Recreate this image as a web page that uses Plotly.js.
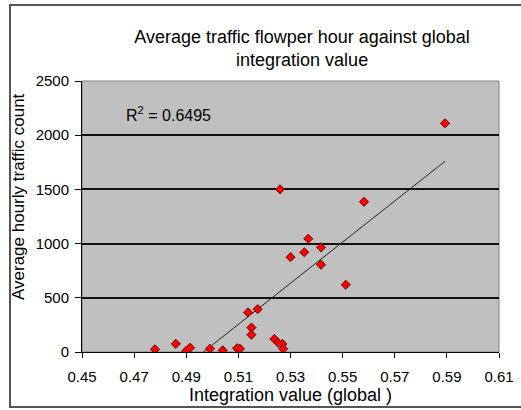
<!DOCTYPE html>
<html>
<head>
<meta charset="utf-8">
<script src="https://cdn.plot.ly/plotly-3.0.1.min.js"></script>
<style>
  html, body { margin: 0; padding: 0; background: #fff; }
  #wrap { position: relative; width: 521px; height: 410px; }
  #chart { position: absolute; left: 0; top: 0; width: 521px; height: 410px; }
  #frame { position: absolute; left: 9px; top: 4px; width: 512px; height: 404px; border: 2px solid #555; border-right: none; box-sizing: border-box; pointer-events: none; }
</style>
</head>
<body>
<div id="wrap">
  <div id="chart"></div>
  <div id="frame"></div>
</div>
<script>
// Integration value (global) for each observation point
const integration = [0.4780, 0.4860, 0.4900, 0.4915, 0.4991, 0.5040, 0.5095, 0.5106,
                     0.5150, 0.5150, 0.5137, 0.5174, 0.5260, 0.5238, 0.5253, 0.5269,
                     0.5272, 0.5300, 0.5353, 0.5368, 0.5417, 0.5417, 0.5512, 0.5582, 0.5893];
// Average hourly traffic count
const traffic = [25, 75, 10, 40, 30, 15, 35, 30,
                 160, 225, 365, 395, 1500, 120, 85, 75,
                 30, 875, 920, 1045, 965, 805, 620, 1385, 2110];
const xTicks = [0.45, 0.47, 0.49, 0.51, 0.53, 0.55, 0.57, 0.59, 0.61];
const yTicks = [0, 500, 1000, 1500, 2000, 2500];
const rSquaredLabel = "R<sup>2</sup> = 0.6495";

// least-squares linear trend line computed from data
const n = integration.length;
const mx = integration.reduce((a, b) => a + b, 0) / n;
const my = traffic.reduce((a, b) => a + b, 0) / n;
let sxy = 0, sxx = 0;
for (let i = 0; i < n; i++) { sxy += (integration[i] - mx) * (traffic[i] - my); sxx += (integration[i] - mx) ** 2; }
const slope = sxy / sxx;
const intercept = my - slope * mx;
const xMax = Math.max(...integration);
const xZero = -intercept / slope; // trend line clipped at the axis minimum (0)
const trendX = [xZero, xMax];
const trendY = trendX.map(x => intercept + slope * x);

const font = "Liberation Sans, Arial, sans-serif";

const traces = [
  {
    x: trendX, y: trendY, type: "scatter", mode: "lines",
    line: { color: "#222", width: 1 }, hoverinfo: "skip", showlegend: false
  },
  {
    x: integration, y: traffic, type: "scatter", mode: "markers",
    marker: { symbol: "diamond", size: 7, color: "#ff0000", line: { color: "#600", width: 1 } },
    showlegend: false
  }
];

const layout = {
  width: 521, height: 410,
  margin: { l: 82, r: 22, t: 81, b: 58 },
  paper_bgcolor: "#ffffff",
  plot_bgcolor: "#c0c0c0",
  font: { family: font, size: 15, color: "#000" },
  title: {
    text: "Average traffic flowper hour against global<br>integration value",
    font: { family: font, size: 18, color: "#000" },
    x: 275 / 521, xanchor: "center", xref: "paper",
    y: 1 - 43 / 410, yanchor: "middle", yref: "container"
  },
  xaxis: {
    range: [0.45, 0.61], tickvals: xTicks, ticktext: xTicks.map(v => v.toFixed(2)),
    showgrid: false, zeroline: false,
    showline: true, linecolor: "#000", linewidth: 1, mirror: false,
    ticks: "outside", ticklen: 5, tickcolor: "#000", ticklabelstandoff: 6,
    tickfont: { family: font, size: 15 },
    title: { text: "Integration value (global )", font: { family: font, size: 18 }, standoff: 4 }
  },
  yaxis: {
    range: [0, 2500], tickvals: yTicks,
    showgrid: true, gridcolor: "#111", gridwidth: 2, zeroline: false,
    showline: true, linecolor: "#000", linewidth: 1,
    ticks: "outside", ticklen: 6, tickcolor: "#000", ticklabelstandoff: 3,
    tickfont: { family: font, size: 15 }
  },
  shapes: [
    { type: "rect", xref: "paper", yref: "paper", x0: 0, x1: 1, y0: 0, y1: 1,
      line: { color: "#808080", width: 1 }, fillcolor: "rgba(0,0,0,0)", layer: "below" }
  ],
  annotations: [
    { text: rSquaredLabel, xref: "paper", yref: "paper", x: 0.1, y: 0.88,
      xanchor: "left", yanchor: "middle", showarrow: false,
      font: { family: font, size: 16, color: "#000" } },
    { text: "Average hourly traffic count", textangle: -90,
      xref: "paper", yref: "paper", x: (18 - 82) / 417, y: (352 - 197) / 271,
      xanchor: "center", yanchor: "middle", showarrow: false,
      font: { family: font, size: 17, color: "#000" } }
  ]
};

Plotly.newPlot("chart", traces, layout, { displayModeBar: false, staticPlot: true });
</script>
</body>
</html>
